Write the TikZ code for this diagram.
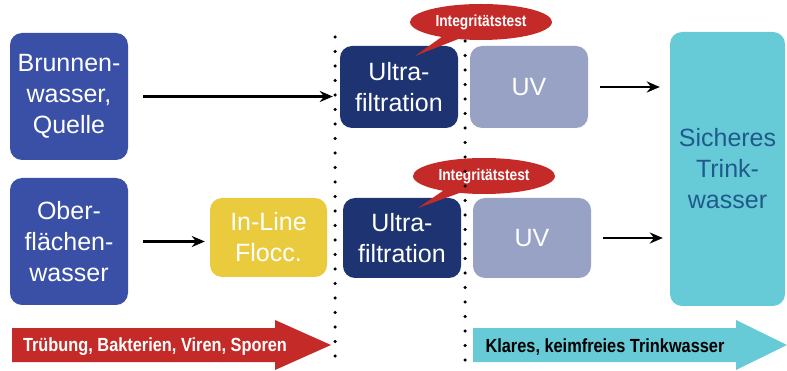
\documentclass[tikz,border=0pt]{standalone}
\usepackage{fontspec}
\setmainfont{Liberation Sans}
\newfontfamily\condbold[FakeStretch=0.86]{Liberation Sans Bold}
\usetikzlibrary{arrows.meta,shapes.callouts}

\definecolor{wellblue}{HTML}{3A50A6}
\definecolor{ufnavy}{HTML}{1E3472}
\definecolor{uvgrey}{HTML}{98A2C4}
\definecolor{floccyellow}{HTML}{EACB3E}
\definecolor{safecyan}{HTML}{66CBD7}
\definecolor{safetext}{HTML}{1F5A8C}
\definecolor{warnred}{HTML}{C42B28}

\tikzset{
  stage/.style={rounded corners=12pt, text=white, align=center,
    font=\fontsize{25}{31}\selectfont, inner sep=0pt},
  flow/.style={line width=2.5pt, -{Stealth[length=13pt,width=11pt]}},
  border/.style={line width=3.5pt, line cap=round, dash pattern=on 0pt off 14.5pt},
  bubble/.style={ellipse callout, fill=warnred, text=white, inner sep=0pt,
    minimum width=142pt, minimum height=36pt,
    font=\condbold\fontsize{16}{18}\selectfont},
  bandtext/.style={font=\condbold\fontsize{19}{21}\selectfont, inner sep=0pt}
}

\begin{document}
\begin{tikzpicture}[x=1pt,y=-1pt]
		%%%%% START %%%%%
		\useasboundingbox (0,0) rectangle (787,371);
		
		\node[stage, fill=wellblue, minimum width=118pt, minimum height=127pt] (brunnen) at (69,96.5) {Brunnen-\\wasser,\\Quelle};
		\node[stage, fill=wellblue, minimum width=118pt, minimum height=127pt] (ober) at (69,241.5) {Ober-\\flächen-\\wasser};
		\node[stage, fill=floccyellow, minimum width=117pt, minimum height=79pt] (flocc) at (268.5,237.5) {In-Line\\Flocc.};
		
		\node[stage, fill=ufnavy, minimum width=118pt, minimum height=82pt] (uf1) at (399,87) {Ultra-\\filtration};
		\node[stage, fill=uvgrey, minimum width=118pt, minimum height=82pt] (uv1) at (529,87) {UV};
		\node[stage, fill=ufnavy, minimum width=118pt, minimum height=80pt] (uf2) at (402,238) {Ultra-\\filtration};
		\node[stage, fill=uvgrey, minimum width=118pt, minimum height=80pt] (uv2) at (532,238) {UV};
		
		\node[stage, fill=safecyan, text=safetext, minimum width=115pt, minimum height=274pt] (sicher) at (727.5,169) {Sicheres\\Trink-\\wasser};
		
		\node[bubble, callout absolute pointer={(415,56)}] (test1) at (481,22) {Integritätstest};
		\node[bubble, callout absolute pointer={(418,208)}] (test2) at (484,176) {Integritätstest};
		
		\draw[border] (335,37) -- (335,360);
		\draw[border] (465,41) -- (465,364);
		
		\draw[flow] ([xshift=15pt]brunnen.east) -- ([xshift=-7pt]brunnen.east -| uf1.west);
		\draw[flow] ([xshift=15pt]ober.east) -- ([xshift=-5pt]ober.east -| flocc.west);
		\draw[flow] ([xshift=12pt]uv1.east) -- ([xshift=-10pt]uv1.east -| sicher.west);
		\draw[flow] ([xshift=12pt]uv2.east) -- ([xshift=-7pt]uv2.east -| sicher.west);
		
		\fill[warnred] (12,328) -- (275,328) -- (275,320) -- (331,345) -- (275,370) -- (275,362) -- (12,362) -- cycle;
		\node[bandtext, text=white] (dirty) at (155,347) {Trübung, Bakterien, Viren, Sporen};
		\fill[safecyan] (473,328) -- (736,328) -- (736,320) -- (787,345) -- (736,370) -- (736,362) -- (473,362) -- cycle;
		\node[bandtext, text=black] (clean) at (605,347) {Klares, keimfreies Trinkwasser};
		
		%%%%% END %%%%%
\end{tikzpicture}
\end{document}
